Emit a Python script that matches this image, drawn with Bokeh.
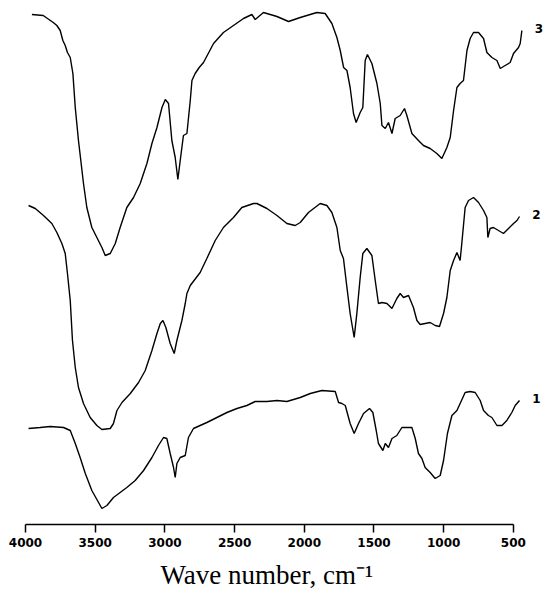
from bokeh.plotting import figure
from bokeh.models import Range1d, FixedTicker, Label, Title
from bokeh.embed import file_html
from bokeh.resources import INLINE

# FTIR spectra (wavenumber cm^-1, transmittance in arbitrary units, offset curves)
wn3 = [3954, 3873, 3801, 3775, 3751, 3732, 3715, 3699, 3679, 3660, 3643, 3620, 3584, 3560, 3524, 3488,
       3452, 3428, 3392, 3356, 3321, 3273, 3225, 3177, 3129, 3093, 3057, 3021, 2997, 2974, 2950, 2926,
       2907, 2890, 2867, 2842, 2818, 2806, 2783, 2754, 2723, 2651, 2580, 2508, 2436, 2376, 2352, 2293,
       2196, 2113, 2029, 1910, 1850, 1802, 1766, 1742, 1718, 1694, 1671, 1647, 1628, 1599, 1580, 1563,
       1547, 1515, 1479, 1455, 1443, 1419, 1396, 1371, 1348, 1312, 1281, 1264, 1228, 1181, 1145, 1097,
       1049, 1013, 977, 953, 929, 905, 882, 858, 833, 810, 786, 750, 714, 690, 654, 618, 594, 559, 523,
       499, 463, 451, 439]
t3 = [510, 509, 502, 499, 494, 484, 479, 472, 467, 451, 417, 384, 341, 317, 297, 287,
      277, 269, 271, 281, 297, 317, 327, 341, 361, 381, 397, 417, 425, 421, 384, 367,
      345, 364, 389, 391, 424, 444, 451, 457, 462, 481, 492, 499, 506, 510, 505, 512,
      508, 503, 507, 512, 511, 501, 487, 474, 457, 454, 437, 411, 402, 412, 417, 464,
      470, 461, 441, 421, 399, 396, 402, 391, 406, 409, 416, 409, 391, 384, 379, 376,
      371, 366, 377, 387, 414, 437, 441, 444, 474, 486, 492, 492, 486, 472, 467, 464, 456, 459, 462,
      471, 477, 481, 494]

wn2 = [3978, 3930, 3871, 3811, 3775, 3739, 3715, 3699, 3679, 3663, 3643, 3620, 3584, 3536, 3488, 3452,
       3392, 3369, 3344, 3308, 3248, 3189, 3141, 3093, 3057, 3033, 3014, 2993, 2962, 2933, 2914, 2878,
       2854, 2842, 2818, 2747, 2699, 2639, 2580, 2508, 2448, 2364, 2340, 2268, 2196, 2125, 2065, 2029,
       1970, 1886, 1838, 1802, 1766, 1742, 1719, 1694, 1671, 1642, 1623, 1599, 1580, 1551, 1515, 1491,
       1468, 1443, 1407, 1371, 1336, 1312, 1288, 1252, 1217, 1192, 1169, 1133, 1097, 1061, 1030, 1001,
       977, 953, 929, 905, 882, 870, 846, 822, 786, 750, 714, 690, 683, 667, 643, 607, 571, 535, 499,
       474, 456]
t2 = [319, 316, 309, 301, 292, 281, 271, 251, 224, 184, 157, 137, 121, 107, 99, 95,
      96, 101, 114, 122, 131, 142, 154, 174, 191, 201, 204, 197, 181, 171, 184, 204,
      221, 231, 239, 252, 266, 284, 297, 307, 317, 321, 321, 316, 309, 301, 299, 302,
      312, 321, 319, 312, 297, 274, 266, 237, 211, 187, 211, 247, 271, 276, 269, 244,
      221, 222, 221, 216, 226, 231, 227, 229, 217, 204, 200, 201, 202, 199, 198, 211,
      227, 254, 264, 272, 264, 281, 317, 324, 327, 322, 314, 307, 287, 296, 297, 294, 291, 296, 301,
      304, 308]

wn1 = [3978, 3895, 3823, 3727, 3679, 3643, 3608, 3571, 3524, 3476, 3452, 3416, 3369, 3321, 3273, 3213,
       3153, 3093, 3046, 3010, 2986, 2962, 2938, 2926, 2914, 2890, 2854, 2831, 2795, 2747, 2699, 2627,
       2555, 2483, 2412, 2352, 2268, 2196, 2125, 2029, 1957, 1874, 1778, 1754, 1730, 1706, 1671, 1642,
       1611, 1575, 1532, 1508, 1484, 1468, 1436, 1419, 1396, 1371, 1336, 1300, 1264, 1228, 1204, 1181,
       1156, 1133, 1097, 1061, 1025, 1001, 973, 941, 905, 882, 846, 810, 774, 738, 714, 679, 654, 618,
       582, 547, 511, 487, 456]
t1 = [96, 97, 98, 97, 94, 81, 67, 51, 34, 22, 16, 19, 27, 32, 37, 44,
      54, 67, 79, 87, 86, 71, 57, 47, 61, 67, 69, 87, 96, 99, 102, 107,
      112, 116, 119, 123, 123, 124, 123, 127, 131, 134, 133, 122, 121, 119, 101, 91,
      101, 111, 116, 112, 94, 81, 74, 81, 77, 86, 89, 97, 97, 97, 86, 71,
      66, 57, 52, 46, 49, 64, 91, 109, 114, 121, 132, 133, 132, 124, 114, 109, 107, 99,
      99, 104, 112, 119, 124]

series = [("1", wn1, t1), ("2", wn2, t2), ("3", wn3, t3)]
ticks = [4000, 3500, 3000, 2500, 2000, 1500, 1000, 500]
x_title = "Wave number, cm\u207b\u00b9"

p = figure(width=548, height=602, output_backend="svg", toolbar_location=None,
           x_range=Range1d(4000, 248), y_range=Range1d(0, 516),
           min_border_left=25, min_border_right=0, min_border_top=8, min_border_bottom=78,
           y_axis_location=None)
p.outline_line_color = None
p.xgrid.visible = False
p.ygrid.visible = False
p.background_fill_color = "white"
p.border_fill_color = "white"

ax = p.xaxis[0]
ax.bounds = (min(ticks), max(ticks))
ax.ticker = FixedTicker(ticks=ticks)
ax.minor_tick_line_color = None
ax.major_tick_in = 0
ax.major_tick_out = 8
ax.major_tick_line_width = 1.5
ax.axis_line_width = 1.5
ax.axis_line_color = "black"
ax.major_tick_line_color = "black"
ax.major_label_text_font = "DejaVu Sans"
ax.major_label_text_font_style = "bold"
ax.major_label_text_font_size = "12px"
ax.major_label_text_color = "black"
ax.major_label_standoff = 5

# axis title centred under the tick span (not under the whole frame)
p.add_layout(Title(text=x_title, align="left", offset=135, standoff=17,
                   text_font="Liberation Serif", text_font_size="27px",
                   text_font_style="normal", text_color="black"), "below")

for name, wn, t in series:
    p.line(wn, t, line_color="black", line_width=1.4)
    p.add_layout(Label(x=wn[-1], y=t[-1], x_offset=17, y_offset=2, text=name,
                       text_font="DejaVu Sans", text_font_style="bold",
                       text_font_size="12px", text_color="black",
                       text_align="center", text_baseline="middle"))

open("out.html", "w").write(file_html(p, INLINE))
